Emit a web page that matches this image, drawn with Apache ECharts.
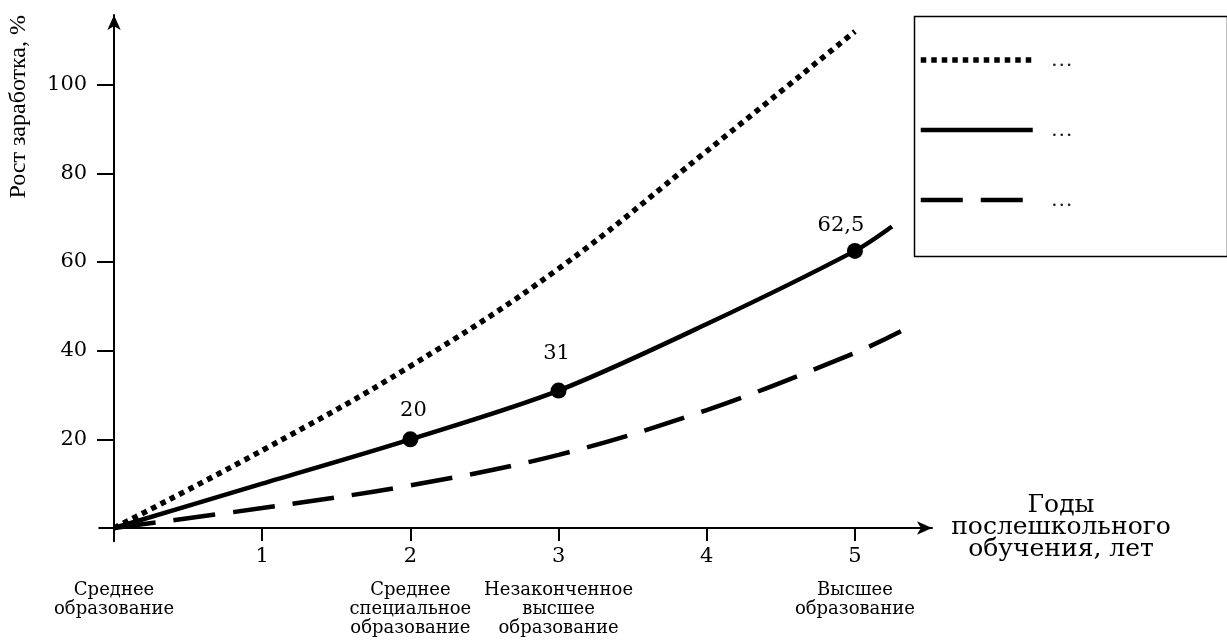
<!DOCTYPE html>
<html><head><meta charset="utf-8">
<script src="https://cdn.jsdelivr.net/npm/echarts@6/dist/echarts.min.js"></script>
<style>html,body{margin:0;padding:0;background:#fff}#c{width:1227px;height:643px}</style>
</head><body><div id="c"></div>
<script>
// ---- data ----
const dottedX = [0, 1, 2, 3, 4, 5];
const dottedY = [0, 17.5, 36.5, 58.5, 85, 112];
const solidX = [0, 1, 2, 3, 4, 5, 5.25];
const solidY = [0, 10, 20, 31, 46, 62.5, 68];
const solidMarked = [2, 3, 5];           // x values with dots and labels
const dashedX = [0, 1, 2, 3, 4, 5, 5.31];
const dashedY = [0, 4.5, 9.6, 16.5, 26.6, 39.5, 44.4];
const xTicks = [1, 2, 3, 4, 5];
const yTicks = [20, 40, 60, 80, 100];
const eduX = [0, 2, 3, 5];
const eduLabels = ['Среднее\nобразование', 'Среднее\nспециальное\nобразование', 'Незаконченное\nвысшее\nобразование', 'Высшее\nобразование'];
const seriesNames = ['Ряд 1', 'Ряд 2', 'Ряд 3'];
const legendText = '…';
const yName = 'Рост заработка, %';
const xName = 'Годы\nпослешкольного\nобучения, лет';

const FONT = 'DejaVu Serif';
const labelOffsets = {2: [3, 0], 3: [-2, -9], 5: [-14, 3]};

function zip(xs, ys) { return xs.map((x, i) => [x, ys[i]]); }

const solidData = solidX.map((x, i) => {
  if (solidMarked.indexOf(x) < 0) return [x, solidY[i]];
  return {
    value: [x, solidY[i]],
    symbol: 'circle', symbolSize: 16,
    label: {show: true, position: 'top', distance: 10, offset: labelOffsets[x]}
  };
});

const chart = echarts.init(document.getElementById('c'), null, {renderer: 'canvas'});
chart.setOption({
  backgroundColor: '#fff',
  animation: false,
  textStyle: {fontFamily: FONT, color: '#000'},
  grid: {left: 99.2, right: 295, top: 15, bottom: 101.7, containLabel: false},
  xAxis: [{
    type: 'value', min: -0.1, max: 5.52, position: 'bottom',
    name: xName, nameLocation: 'end', nameGap: 129,
    nameTextStyle: {fontFamily: FONT, fontSize: 25, color: '#000', align: 'center', verticalAlign: 'middle', lineHeight: 22},
    axisLine: {onZero: true, lineStyle: {color: '#000', width: 2}, symbol: ['none', 'arrow'], symbolSize: [10, 15]},
    axisTick: {show: true, length: 13, customValues: [0].concat(xTicks), lineStyle: {color: '#000', width: 2}},
    axisLabel: {customValues: xTicks, fontFamily: FONT, fontSize: 21, color: '#000', margin: 5},
    splitLine: {show: false}
  }, {
    type: 'value', min: -0.1, max: 5.52, position: 'bottom', offset: 0,
    axisLine: {show: false, onZero: false},
    axisTick: {show: false},
    axisLabel: {
      customValues: eduX, fontFamily: FONT, fontSize: 18, color: '#000', margin: 40, lineHeight: 19,
      align: 'center', verticalAlign: 'top',
      formatter: v => eduLabels[eduX.indexOf(v)] || ''
    },
    splitLine: {show: false}
  }],
  yAxis: {
    type: 'value', min: -3, max: 115.7,
    axisLine: {onZero: true, lineStyle: {color: '#000', width: 2}, symbol: ['none', 'arrow'], symbolSize: [10, 15]},
    axisTick: {show: true, length: 17, customValues: yTicks, lineStyle: {color: '#000', width: 2}},
    axisLabel: {customValues: yTicks, fontFamily: FONT, fontSize: 21, color: '#000', margin: 12},
    splitLine: {show: false}
  },
  legend: {
    orient: 'vertical', left: 918, top: 49, padding: 0,
    itemWidth: 112, itemHeight: 14, itemGap: 48,
    data: seriesNames,
    formatter: () => legendText,
    itemStyle: {opacity: 0},
    lineStyle: {width: 'inherit', type: 'inherit', cap: 'butt'},
    textStyle: {fontFamily: 'Liberation Serif', fontSize: 22, lineHeight: 14, color: '#222', padding: [0, 0, 0, 13]}
  },
  graphic: [{
    type: 'rect', left: 912, top: 14, z: 0,
    shape: {width: 313, height: 240},
    style: {fill: 'none', stroke: '#000', lineWidth: 1.5}
  }, {
    type: 'text', left: 7, top: 15, rotation: Math.PI / 2,
    style: {text: yName, font: '24px "Liberation Serif"', fill: '#000'}
  }],
  series: [{
    name: seriesNames[0], type: 'line', data: zip(dottedX, dottedY), smooth: 0.4,
    symbol: 'none', color: '#000',
    lineStyle: {color: '#000', width: 5.5, type: [5.5, 5], cap: 'butt'}
  }, {
    name: seriesNames[1], type: 'line', data: solidData, smooth: 0.3,
    symbol: 'none', showSymbol: true, color: '#000',
    itemStyle: {color: '#000'},
    lineStyle: {color: '#000', width: 4.5},
    label: {fontFamily: FONT, fontSize: 21, color: '#000',
      formatter: p => String(p.value[1]).replace('.', ',')}
  }, {
    name: seriesNames[2], type: 'line', data: zip(dashedX, dashedY), smooth: 0.35,
    symbol: 'none', color: '#000',
    lineStyle: {color: '#000', width: 4.5, type: [42, 18], cap: 'butt'}
  }]
});
</script></body></html>
